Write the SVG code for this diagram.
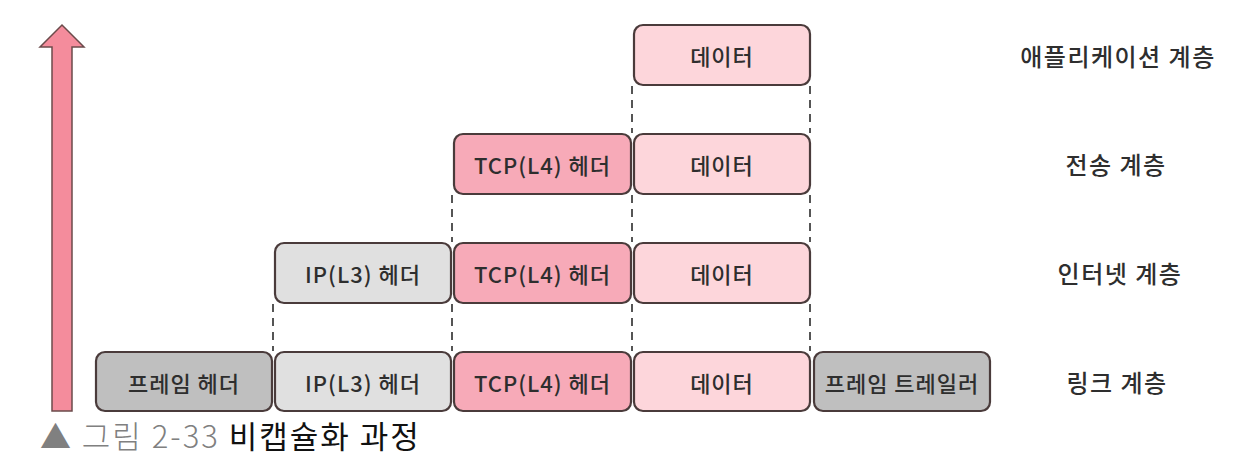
<svg xmlns="http://www.w3.org/2000/svg" width="1246" height="472" viewBox="0 0 1246 472">
<style>
.box{stroke:#4a3b3b;stroke-width:2.2}
.fh{fill:#bfbfbf}
.ip{fill:#e0e0e0}
.tcp{fill:#f7aab8}
.data{fill:#fdd6db}
.t{font-family:"Noto Sans CJK KR","Noto Sans",sans-serif;font-size:22px;font-weight:500;letter-spacing:1px;fill:#2e2e2e;text-anchor:middle;dominant-baseline:central}
.lay{font-family:"Noto Sans CJK KR","Noto Sans",sans-serif;font-size:24px;font-weight:500;letter-spacing:1.5px;fill:#2e2e2e;text-anchor:middle;dominant-baseline:central}
.dash{stroke:#555;stroke-width:2;stroke-dasharray:8,6;fill:none}
.cap{font-family:"Noto Sans CJK KR","Noto Sans",sans-serif;font-size:31px;font-weight:300;letter-spacing:2px}
</style>
<rect width="1246" height="472" fill="#ffffff"/>
<g id="arrow">
<path d="M52,411 L52,47 L40,47 L62,25 L84,47 L72,47 L72,411 Z" fill="#f48c9c" stroke="#6b4b4b" stroke-width="1.5"/>
</g>
<g id="connectors">
<line class="dash" x1="632" y1="86" x2="632" y2="133"/>
<line class="dash" x1="810" y1="86" x2="810" y2="133"/>
<line class="dash" x1="452" y1="195" x2="452" y2="242"/>
<line class="dash" x1="632" y1="195" x2="632" y2="242"/>
<line class="dash" x1="810" y1="195" x2="810" y2="242"/>
<line class="dash" x1="273" y1="304" x2="273" y2="351"/>
<line class="dash" x1="452" y1="304" x2="452" y2="351"/>
<line class="dash" x1="632" y1="304" x2="632" y2="351"/>
<line class="dash" x1="810" y1="304" x2="810" y2="351"/>
</g>
<g id="app-data"><rect class="box data" x="634" y="25" width="176" height="60" rx="9"/><text class="t" x="722" y="55">데이터</text></g>
<g id="tr-tcp"><rect class="box tcp" x="454" y="134" width="177" height="60" rx="9"/><text class="t" x="542.5" y="164">TCP(L4) 헤더</text></g>
<g id="tr-data"><rect class="box data" x="634" y="134" width="176" height="60" rx="9"/><text class="t" x="722" y="164">데이터</text></g>
<g id="in-ip"><rect class="box ip" x="275" y="243" width="176" height="60" rx="9"/><text class="t" x="363" y="273">IP(L3) 헤더</text></g>
<g id="in-tcp"><rect class="box tcp" x="454" y="243" width="177" height="60" rx="9"/><text class="t" x="542.5" y="273">TCP(L4) 헤더</text></g>
<g id="in-data"><rect class="box data" x="634" y="243" width="176" height="60" rx="9"/><text class="t" x="722" y="273">데이터</text></g>
<g id="ln-fh"><rect class="box fh" x="96" y="352" width="176" height="59" rx="9"/><text class="t" x="184" y="381.5">프레임 헤더</text></g>
<g id="ln-ip"><rect class="box ip" x="275" y="352" width="176" height="59" rx="9"/><text class="t" x="363" y="381.5">IP(L3) 헤더</text></g>
<g id="ln-tcp"><rect class="box tcp" x="454" y="352" width="177" height="59" rx="9"/><text class="t" x="542.5" y="381.5">TCP(L4) 헤더</text></g>
<g id="ln-data"><rect class="box data" x="634" y="352" width="176" height="59" rx="9"/><text class="t" x="722" y="381.5">데이터</text></g>
<g id="ln-tr"><rect class="box fh" x="814" y="352" width="176" height="59" rx="9"/><text class="t" x="902" y="381.5">프레임 트레일러</text></g>
<g id="layers">
<text class="lay" x="1118" y="55">애플리케이션 계층</text>
<text class="lay" x="1116" y="163">전송 계층</text>
<text class="lay" x="1120" y="272">인터넷 계층</text>
<text class="lay" x="1117" y="381">링크 계층</text>
</g>
<g id="caption">
<text class="cap" x="40" y="448"><tspan fill="#808080">▲ 그림 2-33 </tspan><tspan fill="#111" font-weight="400">비캡슐화 과정</tspan></text>
</g>
</svg>
